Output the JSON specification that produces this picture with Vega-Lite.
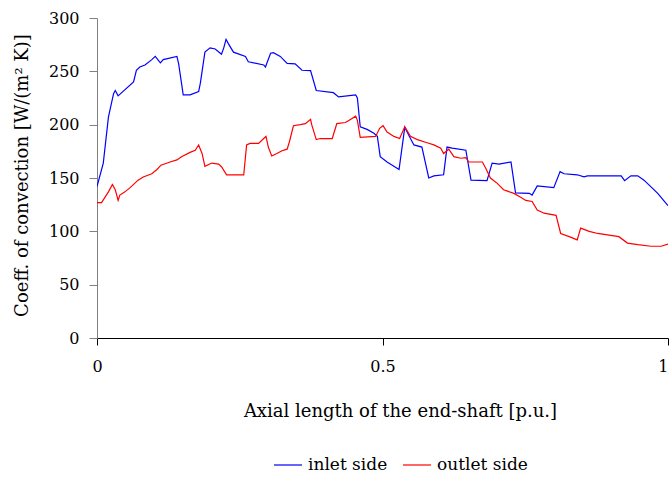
{
  "$schema": "https://vega.github.io/schema/vega-lite/v6.json",
  "width": 571,
  "height": 320,
  "autosize": {"type": "none"},
  "padding": {"left": 97, "top": 18, "right": 3, "bottom": 139},
  "background": "white",
  "config": {
    "view": {"stroke": null},
    "font": "DejaVu Serif",
    "axis": {"grid": false, "labelFont": "DejaVu Serif", "titleFont": "DejaVu Serif", "labelFontSize": 16, "titleFontSize": 18, "labelColor": "#000", "titleColor": "#000", "titleFontWeight": "normal"},
    "legend": {"labelFont": "DejaVu Serif", "labelFontSize": 17, "labelColor": "#000"}
  },
  "data": {"values": [
    {"x":0,"y":142,"s":"inlet side"},{"x":0.011,"y":164,"s":"inlet side"},{"x":0.020,"y":207,"s":"inlet side"},{"x":0.029,"y":229,"s":"inlet side"},{"x":0.032,"y":232,"s":"inlet side"},{"x":0.037,"y":227,"s":"inlet side"},{"x":0.064,"y":240,"s":"inlet side"},{"x":0.069,"y":251,"s":"inlet side"},{"x":0.075,"y":254,"s":"inlet side"},{"x":0.084,"y":256,"s":"inlet side"},{"x":0.096,"y":261,"s":"inlet side"},{"x":0.102,"y":264,"s":"inlet side"},{"x":0.111,"y":258,"s":"inlet side"},{"x":0.116,"y":261,"s":"inlet side"},{"x":0.140,"y":264,"s":"inlet side"},{"x":0.143,"y":257,"s":"inlet side"},{"x":0.151,"y":228,"s":"inlet side"},{"x":0.163,"y":228,"s":"inlet side"},{"x":0.178,"y":231,"s":"inlet side"},{"x":0.181,"y":239,"s":"inlet side"},{"x":0.189,"y":268,"s":"inlet side"},{"x":0.198,"y":272,"s":"inlet side"},{"x":0.207,"y":271,"s":"inlet side"},{"x":0.218,"y":266,"s":"inlet side"},{"x":0.222,"y":272,"s":"inlet side"},{"x":0.226,"y":280,"s":"inlet side"},{"x":0.230,"y":276,"s":"inlet side"},{"x":0.239,"y":268,"s":"inlet side"},{"x":0.260,"y":264,"s":"inlet side"},{"x":0.265,"y":259,"s":"inlet side"},{"x":0.292,"y":256,"s":"inlet side"},{"x":0.295,"y":254,"s":"inlet side"},{"x":0.304,"y":267,"s":"inlet side"},{"x":0.309,"y":267.5,"s":"inlet side"},{"x":0.321,"y":264,"s":"inlet side"},{"x":0.333,"y":257.5,"s":"inlet side"},{"x":0.347,"y":257,"s":"inlet side"},{"x":0.359,"y":251,"s":"inlet side"},{"x":0.374,"y":250.6,"s":"inlet side"},{"x":0.384,"y":232,"s":"inlet side"},{"x":0.414,"y":230,"s":"inlet side"},{"x":0.423,"y":226,"s":"inlet side"},{"x":0.453,"y":228,"s":"inlet side"},{"x":0.456,"y":225,"s":"inlet side"},{"x":0.461,"y":198,"s":"inlet side"},{"x":0.473,"y":195.6,"s":"inlet side"},{"x":0.485,"y":192,"s":"inlet side"},{"x":0.491,"y":189,"s":"inlet side"},{"x":0.496,"y":170,"s":"inlet side"},{"x":0.508,"y":165,"s":"inlet side"},{"x":0.529,"y":158,"s":"inlet side"},{"x":0.539,"y":197.5,"s":"inlet side"},{"x":0.546,"y":190,"s":"inlet side"},{"x":0.555,"y":181,"s":"inlet side"},{"x":0.569,"y":179,"s":"inlet side"},{"x":0.581,"y":150,"s":"inlet side"},{"x":0.590,"y":152,"s":"inlet side"},{"x":0.607,"y":153,"s":"inlet side"},{"x":0.613,"y":179,"s":"inlet side"},{"x":0.622,"y":178,"s":"inlet side"},{"x":0.646,"y":176,"s":"inlet side"},{"x":0.655,"y":148,"s":"inlet side"},{"x":0.683,"y":147.5,"s":"inlet side"},{"x":0.692,"y":164,"s":"inlet side"},{"x":0.704,"y":163,"s":"inlet side"},{"x":0.725,"y":165,"s":"inlet side"},{"x":0.733,"y":136,"s":"inlet side"},{"x":0.757,"y":135.6,"s":"inlet side"},{"x":0.762,"y":134,"s":"inlet side"},{"x":0.771,"y":142.5,"s":"inlet side"},{"x":0.800,"y":141,"s":"inlet side"},{"x":0.811,"y":156,"s":"inlet side"},{"x":0.818,"y":154,"s":"inlet side"},{"x":0.841,"y":153,"s":"inlet side"},{"x":0.853,"y":151,"s":"inlet side"},{"x":0.859,"y":152,"s":"inlet side"},{"x":0.918,"y":152,"s":"inlet side"},{"x":0.924,"y":147.5,"s":"inlet side"},{"x":0.935,"y":152,"s":"inlet side"},{"x":0.947,"y":152,"s":"inlet side"},{"x":0.958,"y":148,"s":"inlet side"},{"x":0.982,"y":135.6,"s":"inlet side"},{"x":1.0,"y":124,"s":"inlet side"},
    {"x":0,"y":127,"s":"outlet side"},{"x":0.008,"y":127,"s":"outlet side"},{"x":0.020,"y":137,"s":"outlet side"},{"x":0.027,"y":144,"s":"outlet side"},{"x":0.032,"y":139,"s":"outlet side"},{"x":0.037,"y":129,"s":"outlet side"},{"x":0.040,"y":134,"s":"outlet side"},{"x":0.049,"y":137,"s":"outlet side"},{"x":0.058,"y":141,"s":"outlet side"},{"x":0.072,"y":148,"s":"outlet side"},{"x":0.081,"y":151,"s":"outlet side"},{"x":0.096,"y":154,"s":"outlet side"},{"x":0.105,"y":158,"s":"outlet side"},{"x":0.112,"y":162,"s":"outlet side"},{"x":0.128,"y":165,"s":"outlet side"},{"x":0.140,"y":167,"s":"outlet side"},{"x":0.148,"y":170,"s":"outlet side"},{"x":0.163,"y":174,"s":"outlet side"},{"x":0.172,"y":176,"s":"outlet side"},{"x":0.178,"y":181,"s":"outlet side"},{"x":0.184,"y":173,"s":"outlet side"},{"x":0.189,"y":161,"s":"outlet side"},{"x":0.201,"y":164,"s":"outlet side"},{"x":0.213,"y":163,"s":"outlet side"},{"x":0.218,"y":160.6,"s":"outlet side"},{"x":0.227,"y":153,"s":"outlet side"},{"x":0.257,"y":153,"s":"outlet side"},{"x":0.262,"y":181,"s":"outlet side"},{"x":0.268,"y":182.5,"s":"outlet side"},{"x":0.283,"y":182.5,"s":"outlet side"},{"x":0.292,"y":187,"s":"outlet side"},{"x":0.296,"y":189,"s":"outlet side"},{"x":0.300,"y":179,"s":"outlet side"},{"x":0.306,"y":170.6,"s":"outlet side"},{"x":0.315,"y":173,"s":"outlet side"},{"x":0.324,"y":175.6,"s":"outlet side"},{"x":0.333,"y":177,"s":"outlet side"},{"x":0.337,"y":184,"s":"outlet side"},{"x":0.344,"y":199,"s":"outlet side"},{"x":0.356,"y":200,"s":"outlet side"},{"x":0.365,"y":201,"s":"outlet side"},{"x":0.374,"y":205,"s":"outlet side"},{"x":0.376,"y":200,"s":"outlet side"},{"x":0.384,"y":186,"s":"outlet side"},{"x":0.391,"y":187,"s":"outlet side"},{"x":0.412,"y":187,"s":"outlet side"},{"x":0.420,"y":201,"s":"outlet side"},{"x":0.435,"y":202,"s":"outlet side"},{"x":0.441,"y":204,"s":"outlet side"},{"x":0.453,"y":208,"s":"outlet side"},{"x":0.456,"y":204,"s":"outlet side"},{"x":0.461,"y":188,"s":"outlet side"},{"x":0.488,"y":189,"s":"outlet side"},{"x":0.495,"y":196.6,"s":"outlet side"},{"x":0.501,"y":199,"s":"outlet side"},{"x":0.508,"y":193,"s":"outlet side"},{"x":0.520,"y":189,"s":"outlet side"},{"x":0.530,"y":187,"s":"outlet side"},{"x":0.539,"y":198,"s":"outlet side"},{"x":0.549,"y":189,"s":"outlet side"},{"x":0.561,"y":186,"s":"outlet side"},{"x":0.578,"y":183,"s":"outlet side"},{"x":0.590,"y":181,"s":"outlet side"},{"x":0.602,"y":178,"s":"outlet side"},{"x":0.607,"y":173,"s":"outlet side"},{"x":0.616,"y":177,"s":"outlet side"},{"x":0.625,"y":170,"s":"outlet side"},{"x":0.637,"y":168.5,"s":"outlet side"},{"x":0.646,"y":169,"s":"outlet side"},{"x":0.651,"y":165,"s":"outlet side"},{"x":0.675,"y":165,"s":"outlet side"},{"x":0.681,"y":159,"s":"outlet side"},{"x":0.689,"y":150,"s":"outlet side"},{"x":0.701,"y":145,"s":"outlet side"},{"x":0.712,"y":139,"s":"outlet side"},{"x":0.730,"y":135.6,"s":"outlet side"},{"x":0.742,"y":132,"s":"outlet side"},{"x":0.751,"y":129,"s":"outlet side"},{"x":0.762,"y":128,"s":"outlet side"},{"x":0.771,"y":120,"s":"outlet side"},{"x":0.783,"y":117,"s":"outlet side"},{"x":0.804,"y":115,"s":"outlet side"},{"x":0.812,"y":98,"s":"outlet side"},{"x":0.827,"y":95,"s":"outlet side"},{"x":0.841,"y":92,"s":"outlet side"},{"x":0.847,"y":103,"s":"outlet side"},{"x":0.862,"y":100,"s":"outlet side"},{"x":0.877,"y":98,"s":"outlet side"},{"x":0.894,"y":96.6,"s":"outlet side"},{"x":0.914,"y":95,"s":"outlet side"},{"x":0.929,"y":89,"s":"outlet side"},{"x":0.947,"y":87.5,"s":"outlet side"},{"x":0.970,"y":86,"s":"outlet side"},{"x":0.988,"y":86,"s":"outlet side"},{"x":1.0,"y":88,"s":"outlet side"}
  ]},
  "mark": {"type": "line", "strokeWidth": 1.2, "clip": true},
  "encoding": {
    "x": {
      "field": "x", "type": "quantitative",
      "scale": {"domain": [0, 1], "nice": false, "zero": false},
      "axis": {
        "title": "Axial length of the end-shaft [p.u.]",
        "values": [0, 0.5, 1], "format": "~g",
        "domainColor": "#000", "tickColor": "#000", "tickSize": 7,
        "labelPadding": 13, "labelBaseline": "top", "labelFlush": false,
        "labelAlign": {"condition": {"test": "datum.value == 1", "value": "right"}, "value": "center"},
        "titleX": 303, "titleAlign": "center", "titleAnchor": "start",
        "titleY": 64, "titleBaseline": "top"
      }
    },
    "y": {
      "field": "y", "type": "quantitative",
      "scale": {"domain": [0, 300], "nice": false},
      "axis": {
        "title": "Coeff. of convection [W/(m² K)]",
        "values": [0, 50, 100, 150, 200, 250, 300],
        "domainColor": "#808080", "tickColor": "#808080", "tickSize": 8,
        "labelPadding": 10,
        "titleX": -75, "titleY": 157, "titleAngle": -90, "titleBaseline": "middle", "titleAlign": "center"
      }
    },
    "color": {
      "field": "s", "type": "nominal",
      "scale": {"domain": ["inlet side", "outlet side"], "range": ["#0000FF", "#FF0000"]},
      "legend": {
        "title": null, "orient": "none", "direction": "horizontal",
        "legendX": 176, "legendY": 432,
        "symbolType": "stroke", "symbolSize": 784, "symbolStrokeWidth": 1.2,
        "labelOffset": 5, "columnPadding": 12
      }
    }
  }
}
